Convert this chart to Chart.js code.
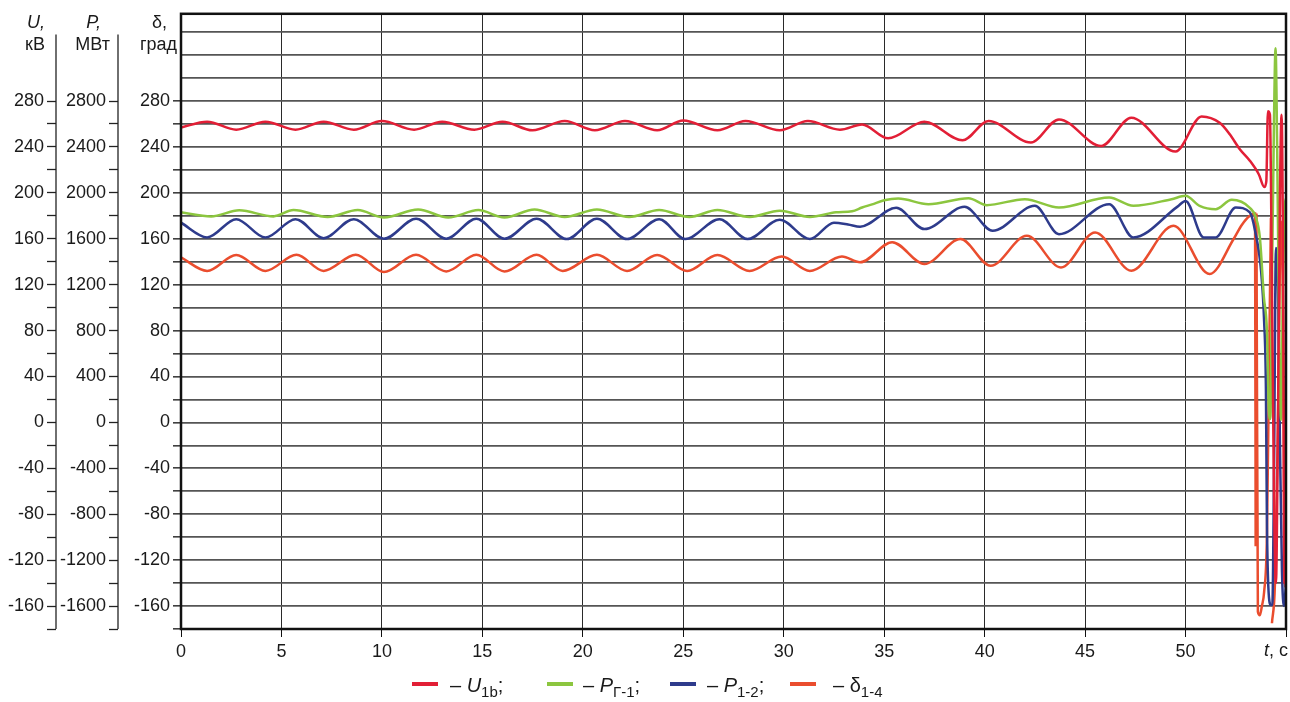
<!DOCTYPE html>
<html>
<head>
<meta charset="utf-8">
<script src="https://cdn.jsdelivr.net/npm/chart.js@4.4.1/dist/chart.umd.min.js"></script>
<style>
  html, body { margin: 0; padding: 0; background: #fff; }
  #wrap { position: relative; width: 1290px; height: 702px; }
</style>
</head>
<body>
<div id="wrap"><canvas id="chart"></canvas></div>
<script>
// Values: time in s, U in kV, P in MW, delta in degrees
const uT = [0, 1.3, 2.75, 4.2, 5.7, 7.1, 8.6, 10.0, 11.6, 13.0, 14.6, 16.0, 17.5, 19.1, 20.6, 22.1, 23.7, 25.0, 26.7, 28.1,
    29.8, 31.2, 32.8, 33.9, 35.2, 37.0, 38.9, 40.2, 42.3, 43.7, 45.8, 47.3, 49.5, 50.8, 51.7, 52.2, 52.7, 53.2, 53.65, 53.92,
    54.02, 54.1, 54.2, 54.3, 54.4, 54.5, 54.6, 54.7, 54.78, 54.85, 54.92, 55];
const uV = [257, 262, 255, 262, 255, 262, 255, 262.5, 255, 262, 255, 262, 254.5, 262.5, 254.5, 262.5, 254.5, 263, 254.5, 262.5,
    254.5, 262.5, 255, 259.5, 247.5, 262, 245.8, 262.6, 243.8, 264, 240.8, 265.5, 236, 266.5, 261, 251, 238, 228, 216, 205,
    210, 271, 268, 120, -60, -140, 0, 200, 268, 150, -140, -80];

const pgT = [0, 1.5, 2.9, 4.6, 5.6, 7.3, 8.8, 10.1, 11.8, 13.3, 14.8, 16.1, 17.6, 19.1, 20.7, 22.3, 23.8, 25.3, 26.7, 28.3,
    29.8, 31.3, 32.6, 33.4, 33.9, 34.4, 35.0, 35.7, 37.2, 39.2, 40.1, 42.0, 43.7, 46.2, 47.4, 49.3, 50.0, 50.7, 51.5, 52.3,
    53.2, 53.5, 53.7, 53.9, 54.05, 54.15, 54.22, 54.3, 54.4, 54.48, 54.56, 54.65, 54.75, 54.85, 54.95, 55];
const pgV = [1830, 1795, 1848, 1795, 1850, 1790, 1850, 1785, 1855, 1785, 1850, 1785, 1855, 1790, 1855, 1790, 1850, 1790, 1850, 1790,
    1845, 1790, 1830, 1840, 1872, 1900, 1935, 1950, 1901, 1953, 1893, 1945, 1872, 1959, 1887, 1945, 1974, 1887, 1858, 1940,
    1870, 1786, 1610, 1090, 800, 100, 30, 1200, 2600, 3260, 2400, 900, 20, 1200, 1900, 1950];

const p12T = [0, 1.3, 2.75, 4.2, 5.7, 7.1, 8.6, 10.1, 11.7, 13.2, 14.7, 16.1, 17.7, 19.2, 20.7, 22.2, 23.8, 25.1, 26.8, 28.2,
    29.8, 31.3, 32.5, 33.2, 33.8, 35.6, 37.0, 39.0, 40.4, 42.5, 43.7, 46.2, 47.4, 49.6, 50.0, 50.9, 51.5, 52.5, 53.2, 53.46,
    53.76, 53.91, 54.0, 54.05, 54.15, 54.25, 54.32, 54.4, 54.5, 54.6, 54.7, 54.8, 54.9, 55];
const p12V = [1740, 1612, 1771, 1610, 1771, 1605, 1771, 1600, 1775, 1600, 1775, 1600, 1775, 1597, 1775, 1597, 1771, 1597, 1771, 1597,
    1765, 1597, 1740, 1725, 1705, 1870, 1684, 1878, 1670, 1887, 1640, 1901, 1612, 1880, 1930, 1612, 1612, 1872, 1830, 1670,
    1320, 887, 300, -860, -1520, -1590, -1590, -500, 1520, 1200, -200, -1300, -1600, -1400];

const dT = [0, 1.3, 2.75, 4.2, 5.75, 7.1, 8.7, 10.1, 11.7, 13.2, 14.7, 16.1, 17.7, 19.0, 20.7, 22.2, 23.7, 25.2, 26.7, 28.3,
    29.9, 31.3, 32.9, 33.8, 35.4, 37.0, 38.8, 40.3, 42.1, 43.8, 45.5, 47.3, 49.4, 51.2, 52.4, 52.8, 53.2, 53.46, 53.49, 53.51,
    53.53, 53.6, 53.7, 53.8, 53.91, 54.05, 54.15, 54.25, 54.28, 54.3, 54.45, 54.6, 54.75, 54.85, 54.95, 55];
const dV = [143.8, 132, 145.8, 132, 146, 132, 146, 131, 146, 131.5, 146, 131.5, 146, 132, 146, 132, 145.8, 132, 145.8, 132,
    144.5, 132, 144.5, 139.5, 157, 138, 159.7, 136.5, 162.6, 135, 165.5, 132.2, 171.3, 129.3, 160, 172, 180, 182, -108, null,
    182, -165, -168, -160, -148, -100, 40, 178, null, -175, -140, 0, 175, 100, -143, -120];

// axis ticks
const timeTicks = [0, 5, 10, 15, 20, 25, 30, 35, 40, 45, 50, 55];
const degTicks = [-180, -160, -140, -120, -100, -80, -60, -40, -20, 0, 20, 40, 60, 80, 100, 120, 140, 160, 180, 200, 220, 240, 260, 280, 300, 320, 340];
const kvTicks = [-180, -160, -140, -120, -100, -80, -60, -40, -20, 0, 20, 40, 60, 80, 100, 120, 140, 160, 180, 200, 220, 240, 260, 280];
const mwTicks = [-1800, -1600, -1400, -1200, -1000, -800, -600, -400, -200, 0, 200, 400, 600, 800, 1000, 1200, 1400, 1600, 1800, 2000, 2200, 2400, 2600, 2800];

const FONT = "'Liberation Sans', Arial, sans-serif";
const colors = { u: '#e21f36', pg: '#8cc63f', p12: '#2e3b8c', d: '#ea4d2e' };

Chart.defaults.font.family = FONT;
Chart.defaults.font.size = 18;
Chart.defaults.color = '#1a1a1a';

function pts(ts, vs) {
    return ts.map((t, i) => ({ x: t, y: vs[i] }));
}

function drawRich(ctx, x, y, parts) {
    parts.forEach(p => {
        if (p.sub) {
            ctx.font = '15px ' + FONT;
            ctx.fillText(p.t, x, y + 5);
        } else {
            ctx.font = (p.it ? 'italic ' : '') + '20px ' + FONT;
            ctx.fillText(p.t, x, y);
        }
        x += ctx.measureText(p.t).width;
    });
}

const decor = {
    id: 'decor',
    afterDatasetsDraw(chart) {
        const { ctx, chartArea: a, scales } = chart;
        ctx.save();

        // plot frame
        ctx.strokeStyle = '#111';
        ctx.lineWidth = 2.5;
        ctx.strokeRect(a.left, a.top, a.right - a.left, a.bottom - a.top);

        // spines of the two outer axes
        ctx.lineWidth = 1.3;
        ctx.strokeStyle = '#222';
        const yTop = scales.yU.getPixelForValue(338);
        [scales.yU.right, scales.yP.right].forEach(x => {
            ctx.beginPath();
            ctx.moveTo(x, yTop);
            ctx.lineTo(x, a.bottom);
            ctx.stroke();
        });

        // axis headers
        ctx.fillStyle = '#1a1a1a';
        ctx.textAlign = 'right';
        ctx.textBaseline = 'alphabetic';
        ctx.font = 'italic 18px ' + FONT;
        ctx.fillText('U,', 45, 28);
        ctx.fillText('P,', 101, 28);
        ctx.font = '18px ' + FONT;
        ctx.fillText('δ,', 167, 28);
        ctx.fillText('кВ', 45, 50);
        ctx.fillText('МВт', 110, 50);
        ctx.fillText('град', 177, 50);

        // time axis label
        ctx.textAlign = 'left';
        ctx.textBaseline = 'middle';
        ctx.font = 'italic 18px ' + FONT;
        ctx.fillText('t', 1264, 651);
        const tw = ctx.measureText('t').width;
        ctx.font = '18px ' + FONT;
        ctx.fillText(', c', 1264 + tw, 651);

        // legend
        const items = [
            { c: colors.u, x: 412, tx: 450, parts: [{ t: '– ' }, { t: 'U', it: true }, { t: '1b', sub: true }, { t: ';' }] },
            { c: colors.pg, x: 547, tx: 583, parts: [{ t: '– ' }, { t: 'P', it: true }, { t: 'Г-1', sub: true }, { t: ';' }] },
            { c: colors.p12, x: 670, tx: 707, parts: [{ t: '– ' }, { t: 'P', it: true }, { t: '1-2', sub: true }, { t: ';' }] },
            { c: colors.d, x: 790, tx: 833, parts: [{ t: '– ' }, { t: 'δ' }, { t: '1-4', sub: true }] }
        ];
        ctx.textBaseline = 'alphabetic';
        items.forEach(it => {
            ctx.strokeStyle = it.c;
            ctx.lineWidth = 4;
            ctx.beginPath();
            ctx.moveTo(it.x, 684);
            ctx.lineTo(it.x + 26, 684);
            ctx.stroke();
            ctx.fillStyle = '#1a1a1a';
            drawRich(ctx, it.tx, 692, it.parts);
        });
        ctx.restore();
    }
};

const lineStyle = { borderWidth: 2.5, pointRadius: 0, cubicInterpolationMode: 'monotone', fill: false };

new Chart(document.getElementById('chart'), {
    type: 'line',
    data: {
        datasets: [
            { label: 'U1b', data: pts(uT, uV), borderColor: colors.u, yAxisID: 'yU', ...lineStyle },
            { label: 'PГ-1', data: pts(pgT, pgV), borderColor: colors.pg, yAxisID: 'yP', ...lineStyle },
            { label: 'P1-2', data: pts(p12T, p12V), borderColor: colors.p12, yAxisID: 'yP', ...lineStyle },
            { label: 'δ1-4', data: pts(dT, dV), borderColor: colors.d, yAxisID: 'yD', ...lineStyle }
        ]
    },
    options: {
        responsive: true,
        maintainAspectRatio: false,
        animation: false,
        layout: { padding: { top: 13, right: 4, left: 0, bottom: 0 } },
        plugins: { legend: { display: false }, tooltip: { enabled: false } },
        scales: {
            x: {
                type: 'linear',
                min: 0,
                max: 55,
                afterBuildTicks: s => { s.ticks = timeTicks.map(v => ({ value: v })); },
                afterFit: s => { s.height = 73; },
                ticks: { autoSkip: false, maxRotation: 0, padding: 4, callback: v => (v === 55 ? '' : v) },
                grid: { color: '#2a2a2a', lineWidth: 1, tickLength: 8, tickColor: '#111' },
                border: { display: false }
            },
            yD: {
                position: 'left',
                weight: 0,
                min: -180,
                max: 356,
                afterBuildTicks: s => { s.ticks = degTicks.map(v => ({ value: v })); },
                afterFit: s => { s.width = 63; },
                ticks: { autoSkip: false, padding: 3, callback: v => (v % 40 === 0 && v <= 280 ? v : '') },
                grid: {
                    color: '#555',
                    lineWidth: 1.7,
                    tickLength: 8,
                    tickWidth: 1.3,
                    tickColor: c => (c.tick && c.tick.value <= 280 ? '#111' : 'rgba(0,0,0,0)')
                },
                border: { display: false }
            },
            yP: {
                position: 'left',
                weight: 1,
                min: -1800,
                max: 3560,
                afterBuildTicks: s => { s.ticks = mwTicks.map(v => ({ value: v })); },
                afterFit: s => { s.width = 62; },
                ticks: { autoSkip: false, padding: 3, callback: v => (v % 400 === 0 ? v : '') },
                grid: { drawOnChartArea: false, tickLength: 9, tickWidth: 1.3, color: '#222', tickColor: '#222' },
                border: { display: false }
            },
            yU: {
                position: 'left',
                weight: 2,
                min: -180,
                max: 356,
                afterBuildTicks: s => { s.ticks = kvTicks.map(v => ({ value: v })); },
                afterFit: s => { s.width = 56; },
                ticks: { autoSkip: false, padding: 3, callback: v => (v % 40 === 0 ? v : '') },
                grid: { drawOnChartArea: false, tickLength: 9, tickWidth: 1.3, color: '#222', tickColor: '#222' },
                border: { display: false }
            }
        }
    },
    plugins: [decor]
});
</script>
</body>
</html>
